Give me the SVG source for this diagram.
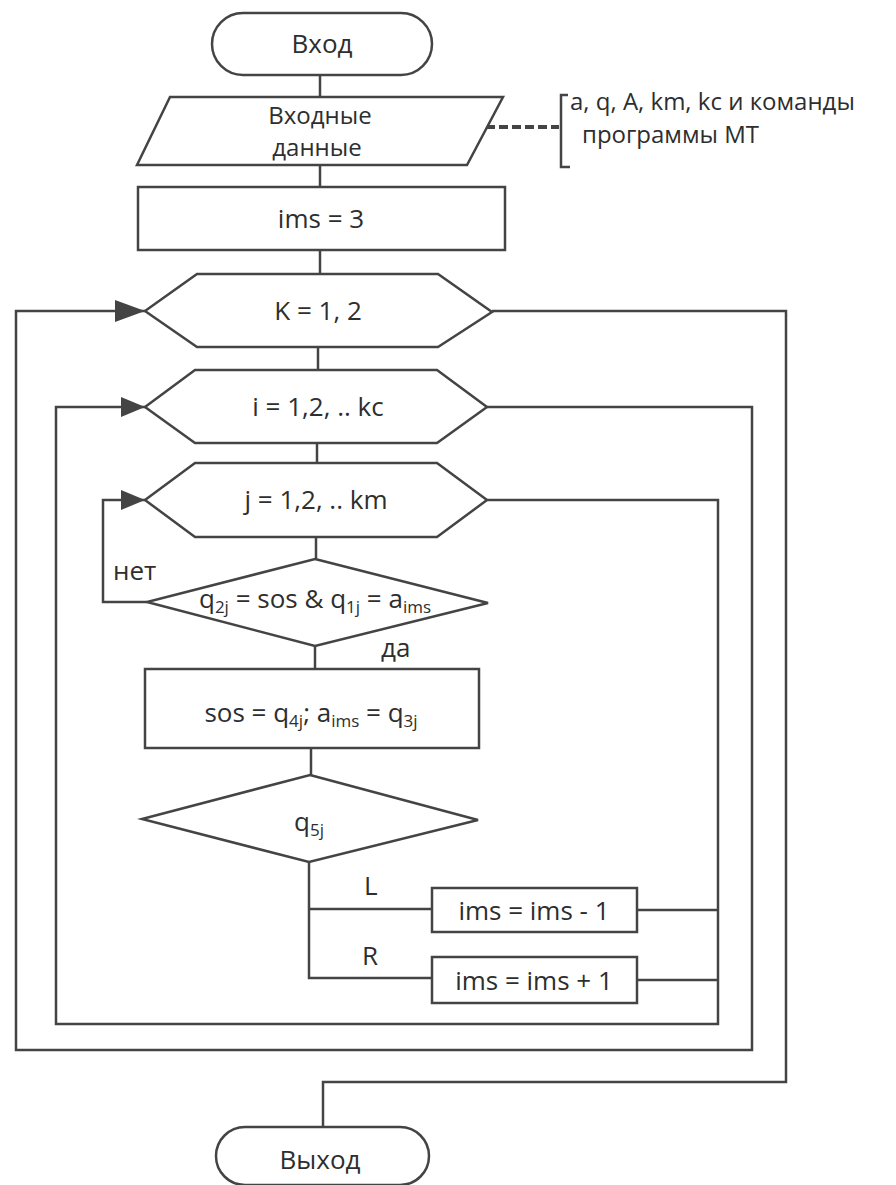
<svg xmlns="http://www.w3.org/2000/svg" width="896" height="1185" viewBox="0 0 896 1185">
<style>
.s{fill:#fff;stroke:#444;stroke-width:2.5;stroke-linejoin:miter}
.c{fill:none;stroke:#444;stroke-width:2.5}
.t{font-family:"Open Sans","Liberation Sans",Arial,sans-serif;font-size:26px;fill:#2e2e2e}
.m{text-anchor:middle}
.sub{font-size:17px}
.two{font-size:24px}
</style>
<defs>
<marker id="ah" markerWidth="24" markerHeight="20" refX="24" refY="10" orient="auto" markerUnits="userSpaceOnUse">
<path d="M0,0 L24,10 L0,20 Z" fill="#444"/>
</marker>
<marker id="ahb" markerWidth="30" markerHeight="22" refX="30" refY="11" orient="auto" markerUnits="userSpaceOnUse">
<path d="M0,0 L30,11 L0,22 Z" fill="#444"/>
</marker>
</defs>
<rect width="896" height="1185" fill="#fff"/>

<g id="connectors">
<path class="c" d="M320,75 V97"/>
<path class="c" d="M320,165 V187"/>
<path class="c" d="M320,250 V274"/>
<path class="c" d="M318,347 V370"/>
<path class="c" d="M317,443 V463"/>
<path class="c" d="M316,537 V559"/>
<path class="c" d="M315,646 V669"/>
<path class="c" d="M311,748 V775"/>
<path class="c" d="M309,862 V978 H432"/>
<path class="c" d="M309,909 H432"/>
<path class="c" d="M637,910 H718"/>
<path class="c" d="M637,980 H718"/>
<path class="c" d="M147,602 H103 V500 H145" marker-end="url(#ah)"/>
<path class="c" d="M487,500 H718 V1024 H56 V407 H145" marker-end="url(#ah)"/>
<path class="c" d="M487,407 H752 V1050 H16 V311 H145" marker-end="url(#ahb)"/>
<path class="c" d="M492,311 H786 V1082 H323 V1127"/>
<path d="M486,127 H559" fill="none" stroke="#444" stroke-width="4" stroke-dasharray="9,4"/>
<path class="c" d="M568,95 H561 V167 H570"/>
</g>

<g id="start">
<rect class="s" x="212" y="13" width="220" height="62" rx="31" ry="31"/>
<text class="t m" x="322" y="53">Вход</text>
</g>

<g id="input">
<polygon class="s" points="170,97 503,97 467,165 137,165"/>
<text class="t m two" x="320" y="124">Входные</text>
<text class="t m two" x="317" y="156">данные</text>
</g>

<g id="note">
<text class="t two" x="570" y="110">a, q, A, km, kc и команды</text>
<text class="t two" x="582" y="143">программы МТ</text>
</g>

<g id="init">
<rect class="s" x="138" y="187" width="367" height="63"/>
<text class="t m" x="321" y="228">ims = 3</text>
</g>

<g id="loopK">
<polygon class="s" points="145,311 197,274 438,274 492,312 438,347 197,347"/>
<text class="t m" x="318" y="320">K = 1, 2</text>
</g>

<g id="loopI">
<polygon class="s" points="145,407 195,370 437,370 487,407 437,443 195,443"/>
<text class="t m" x="318" y="416">i = 1,2, .. kc</text>
</g>

<g id="loopJ">
<polygon class="s" points="145,500 195,463 437,463 487,500 437,537 195,537"/>
<text class="t m" x="316" y="509">j = 1,2, .. km</text>
</g>

<g id="cond">
<polygon class="s" points="315,559 488,603 315,646 147,602"/>
<text class="t m" x="315" y="608">q<tspan class="sub" dy="5">2j</tspan><tspan dy="-5"> = sos &amp; q</tspan><tspan class="sub" dy="5">1j</tspan><tspan dy="-5"> = a</tspan><tspan class="sub" dy="5">ims</tspan></text>
<text class="t" x="113" y="580">нет</text>
<text class="t" x="381" y="657">да</text>
</g>

<g id="assign">
<rect class="s" x="145" y="669" width="334" height="79"/>
<text class="t m" x="311" y="722">sos = q<tspan class="sub" dy="5">4j</tspan><tspan dy="-5">;  a</tspan><tspan class="sub" dy="5">ims</tspan><tspan dy="-5"> = q</tspan><tspan class="sub" dy="5">3j</tspan></text>
</g>

<g id="q5j">
<polygon class="s" points="310,775 478,820 309,862 142,819"/>
<text class="t m" x="309" y="831">q<tspan class="sub" dy="5">5j</tspan></text>
<text class="t" x="364" y="895">L</text>
<text class="t" x="362" y="965">R</text>
</g>

<g id="dec">
<rect class="s" x="432" y="888" width="205" height="44"/>
<text class="t m" x="534" y="920">ims = ims - 1</text>
</g>

<g id="inc">
<rect class="s" x="432" y="957" width="205" height="46"/>
<text class="t m" x="534" y="990">ims = ims + 1</text>
</g>

<g id="end">
<rect class="s" x="216" y="1127" width="213" height="58" rx="29" ry="29"/>
<text class="t m" x="320" y="1169">Выход</text>
</g>
</svg>
